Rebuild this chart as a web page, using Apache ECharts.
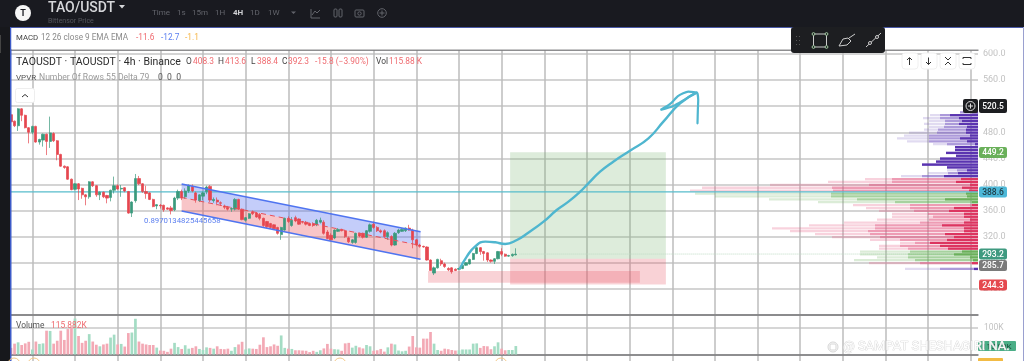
<!DOCTYPE html>
<html><head><meta charset="utf-8">
<style>html,body{margin:0;padding:0;background:#fff;overflow:hidden}#c{width:1024px;height:361px}</style>
<script src="https://cdn.jsdelivr.net/npm/echarts@6/dist/echarts.min.js"></script>
</head><body><div id="c"></div>
<script>
// [open, close, low, high]
const candles = [
[507,496,492,512],[497,490,488,498],[490,516,482,517],[516,506,497,517],[506,487,486,507],[487,480,463,488],[480,489,477,490],[489,465,464,490],[465,469,461,470],[468,477,458,478],
[477,466,445,478],[466,479,456,504],[478,467,465,480],[467,446,437,468],[446,428,427,447],[428,426,424,429],[427,408,407,428],[408,392,391,409],[392.5,401,391,402],[401,393,376,402],
[394,384,378,395],[384,381,368,385],[381,404,378,405],[404,398,396,405],[398,384,381,399],[384,388,376,389],[388,381,379,389],[383,379,371,384],[380,391,374,392],[391,398,386,412],
[398,393,392,400],[393,394,381,399],[395,390,388,396],[389,356,355,390],[356,373,350,374],[375,409,372,416],[409,401,399,413],[401,389,387,402],[389,386,378,398],[387,377,376,388],
[377,366,365,378],[367,369,362,370],[368,367,363,370],[368,361,358,369],[364,362,361,365],[364,360,354,367],[361,379,359,381],[379,389,376,392],[389,379,376,392],[381,390,378,394],
[390,398,387,400],[397,390,388,400],[387,376,372,389],[375,384,373,385],[382,387,376,389],[389,396,385,398],[397,376,373,399],[375,377,372,380],[376,373,368,380],[372,371,367,374],
[367,365,362,369],[365,362,360,367],[362,363,358,365],[362,377,360,379],[377,362,361,378],[362,346,345,363],[345,349,343,350],[348,355,347,356],[358,355,353,360],[356,350,349,357],
[354,348,345,356],[348,337,335,349],[343,335,333,344],[340,334,332,341],[338,332,330,339],[334,325,323,335],[323,334,315,335],[330,348,329,349],[348,343,341,351],[337,345,335,350],
[349,344,342,352],[347,339,338,348],[343,342,340,344],[342,339,337,344],[340,337,336,341],[340,337,335,342],[338,345,336,347],[342,345,340,349],[342,325,323,345],[327,317,316,330],
[322,315,313,325],[318,330,316,331],[328,331,327,333],[331,329,328,332],[329,320,318,330],[318,312,310,320],[311,315,309,316],[311,325,309,326],[325,321,319,326],[325,319,317,326],
[319,329,318,330],[328,338,326,340],[339,334,332,343],[334,329,327,336],[329,327,325,331],[329,320,318,331],[320,326,315,328],[320,307,305,322],[307,325,306,327],[326,330,324,332],
[328,331,327,333],[329,333,327,334],[333,330,329,338],[330,315,302,332],[315,307,305,316],[307,305,303,309],[305,304,303,306],[304,284,283,305],[284,268,268,285],[264,272,261,274],
[272,285,271,286],[283,278,275,286],[278,274,272,280],[271,269,267,273],[272,266,263,273],[270,268,267,271],[270,271,269,272],[271,276,270,277],[276,280,275,281],[278,285,277,286],
[285,294,284,295],[294,303,293,304],[303,297,292,304],[297,294,283,298],[295,284,281,296],[284,282,280,285],[282,286,278,287],[286,297,285,298],[297,293,290,302],[293,290,289,294],
[290,291,289,292],[290.7,292.8,289,294],[292,293.2,291,302]];
// volume in thousands
const volumes = [25,41,46,36,42,48,19,49,40,42,90,89,41,52,90,55,96,102,136,70,44,52,77,49,37,31,38,41,64,75,38,40,30,81,83,135,49,41,38,36,36,26,15,14,10,22,44,28,21,35,22,25,31,21,17,27,25,22,31,21,20,22,14,28,38,48,19,23,22,21,37,65,28,31,38,33,72,25,22,21,16,16,15,14,9,14,10,16,23,40,22,20,19,14,42,44,26,33,27,23,36,31,14,16,21,11,27,41,38,15,12,14,30,70,27,26,60,60,85,41,17,14,22,20,17,15,16,19,19,19,41,42,25,32,31,20,31,46,22,16,17,17,32];
const categories = candles.map((_, i) => String(i)).concat(Array.from({length: 273 - candles.length}, (_, i) => String(candles.length + i)));

// VPVR rows (price level, total, middle layer, dark layer, colour group)
const vpPrice = [510.6,506.2,501.7,497.3,492.8,488.4,483.9,479.5,475,470.6,466.1,461.7,457.2,452.8,448.3,443.9,439.4,435,430.5,426.1,421.6,417.2,412.7,408.3,403.8,399.4,394.9,390.5,386,381.6,377.1,372.7,368.2,363.8,359.3,354.9,350.4,346,341.5,337.1,332.6,328.2,323.7,319.3,314.8,310.4,305.9,301.5,297,292.6,288.1,283.7,279.2,274.8,270.3];
const vpTotal = [18,48,55,49,54,49,54,69,74,81,71,45,23,23,32,22,38,42,56,31,31,50,77,113,150,208,276,288,283,263,209,160,125,112,99,86,86,101,134,169,206,188,163,146,108,78,99,99,118,118,101,124,109,0,73];
const vpMid = [18,38,38,33,33,34,40,41,49,49,49,31,23,23,32,22,38,42,56,31,21,30,56,86,86,109,146,145,147,147,121,83,68,68,64,50,45,49,58,103,103,110,108,98,78,63,78,70,68,70,70,63,58,0,38];
const vpDark = [6,28,19,16,19,11,12,12,8,18,11,3,23,23,32,22,38,42,56,31,11,20,34,17,22,8,16,9,12,11,33,6,6,24,29,14,14,8,14,36,14,14,33,24,31,48,38,30,16,24,8,5,6,0,4];
const vpGroup = ['p','p','p','p','p','p','p','p','p','p','p','p','p','p','p','p','p','p','p','p','p','p','p','r','r','r','r','r','g','g','g','g','r','r','r','r','r','r','r','r','r','r','r','r','r','r','r','r','g','g','g','g','r','r','p'];

// Drawn overlays on bar-index / price coordinates
const positionBoxes = [[140.4,184.2,449.3,286,'g'],[140.4,184.2,286,246.5,'r'],[117.3,176.9,267,249,'r']];
const channelTop = [[48,400.7],[115.2,327.5]];
const channelMid = [[48,380],[115.2,306.3]];
const channelBottom = [[48,359.3],[115.2,285.2]];
const lastLevel = 388.6, stopDotted = 293.2;
const sketchCurve = [[126.3,271.3],[128.2,289.2],[130.5,304.6],[133.4,312.2],[136.2,311.2],[139,308.6],[142.3,314.8],[145.5,326],[149.8,342.9],[153.5,360.8],[156.8,373.6],[160.1,388.9],[162.4,401.7],[165.7,419.6],[169.4,434.9],[174.1,451.8],[179.3,470.7],[183.5,496.3],[188.2,524.4],[192.9,540.8]];
const sketchHead = [[192.9,540.8],[190.5,542.3],[187.7,535.7],[185.4,523.4],[182.7,514.2],[186.3,520.3],[189.6,530.5],[192.9,540.8],[193.3,529.5],[193.2,514.2],[193.1,493.7]];

const RED='#e5464f', GREEN='#3a9a7c';
const FONT='Roboto, "Noto Sans", sans-serif';
const vpColors = {
  p:['rgba(120,90,190,.22)','rgba(120,90,195,.5)','#5a34b0'],
  r:['rgba(230,90,130,.27)','rgba(225,80,125,.42)','#dc3560'],
  g:['rgba(110,180,95,.25)','rgba(105,180,90,.45)','#6bb05b']
};
const boxColors = {g:'rgba(120,180,110,.25)', r:'rgba(232,90,105,.27)'};

function T(x,y,text,size,fill,extra){
  return {type:'text',silent:true,z:60,x,y,style:Object.assign({text,fontSize:size,fill,fontFamily:FONT,verticalAlign:'middle',align:'left'},extra||{})};
}
function R(x,y,w,h,fill,r,extra){
  return {type:'rect',silent:true,z:49,shape:{x,y,width:w,height:h,r:r||0},style:Object.assign({fill},extra||{})};
}
function PL(points,stroke,w){
  return {type:'polyline',silent:true,z:51,shape:{points},style:{fill:'none',stroke,lineWidth:w||1}};
}
function C(cx,cy,r,stroke,fill,w){
  return {type:'circle',silent:true,z:51,shape:{cx,cy,r},style:{fill:fill||'none',stroke:stroke||'none',lineWidth:w||1}};
}
function badge(y,h,label,fill,textColor){
  return [R(979,y,28,h,fill,2),T(993,y+h/2+.5,label,8.5,textColor||'#fff',{align:'center',fontWeight:500})];
}

const dim='#62646b';
const graphics = [
  R(0,0,1024,27,'#191a20'),
  R(0,27,10,334,'#17181c'),
  R(10,27,1.5,334,'#3d5bc7'),
  R(11,27,1013,1,'#4a5aa8'),
  R(1023,27,1,334,'#9aa0cf'),
  R(0,35,1,18,'#444'),
  C(23,13,8,null,'#f6f6f6'),
  T(23,13.5,'T',9,'#191a20',{align:'center',fontWeight:700}),
  T(48,8,'TAO/USDT',14,'#d6d7da',{fontWeight:500}),
  {type:'polygon',silent:true,z:51,shape:{points:[[119,5],[125,5],[122,8.5]]},style:{fill:'#d6d7da'}},
  T(48,21,'Bittensor Price',7,'#54565c'),
  T(152,13,'Time',8,dim),T(177,13,'1s',8,dim),T(192,13,'15m',8,dim),T(215,13,'1H',8,dim),
  T(233,13,'4H',8,'#cfd0d3',{fontWeight:700}),T(250,13,'1D',8,dim),T(268,13,'1W',8,dim),
  {type:'polygon',silent:true,z:51,shape:{points:[[291,11.5],[296,11.5],[293.5,14]]},style:{fill:dim}},
  PL([[311,9],[311,18],[320,18]],dim),PL([[312,15],[315,11],[317,13],[320,10]],dim),
  R(334,9,3,8,'none',1,{stroke:dim}),R(339,9,3,8,'none',1,{stroke:dim}),
  R(355,10,9,7,'none',1,{stroke:dim}),C(359.5,13.5,1.7,dim),
  C(382,13,4.3,dim),PL([[379.5,13],[384.5,13]],dim),PL([[382,10.5],[382,15.5]],dim),

  R(11.5,28,1011.5,21.5,'#ffffff'),
  T(16,38,'MACD',7.8,'#444'),T(41,38,'12 26 close 9 EMA EMA',8.2,'#8a8a8a'),
  T(136,38,'-11.6',8.3,'#ef6b70'),T(161,38,'-12.7',8.3,'#5b7ff0'),T(185,38,'-1.1',8.3,'#f5b547'),

  T(16,62,'TAOUSDT · TAOUSDT · 4h · Binance',10.5,'#2c2c2c'),
  T(186,62,'O',8.4,'#444'),T(193,62,'408.3',8.4,'#ef6b70'),
  T(218,62,'H',8.4,'#444'),T(225,62,'413.6',8.4,'#ef6b70'),
  T(251,62,'L',8.4,'#444'),T(257,62,'388.4',8.4,'#ef6b70'),
  T(282,62,'C',8.4,'#444'),T(288,62,'392.3',8.4,'#ef6b70'),
  T(315,62,'-15.8 (−3.90%)',8.4,'#ef6b70'),
  T(376,62,'Vol',8.4,'#444'),T(389,62,'115.88 K',8.4,'#ef6b70'),
  T(16,78,'VPVR',8,'#555'),T(39,78,'Number Of Rows 55 Delta 79',8.6,'#9a9a9a'),T(158,78,'0  0  0',8.6,'#555'),
  R(15.5,88.5,19,14,'#fff',2,{stroke:'#eee'}),PL([[22,97],[25,94.5],[28,97]],'#333'),

  T(144,221,'0.8970134825445658',7.8,'#5b7ff0'),

  // drawing toolbar
  R(791,27,94,26,'#1d1e21',3),
  R(796,36,1,1,'#555'),R(799,36,1,1,'#555'),R(796,40,1,1,'#555'),R(799,40,1,1,'#555'),R(796,44,1,1,'#555'),R(799,44,1,1,'#555'),
  R(813.5,34,13,13,'none',0,{stroke:'#ccc'}),
  C(813.5,34,1.4,'#9fc79f','#1d1e21'),C(826.5,34,1.4,'#9fc79f','#1d1e21'),C(813.5,47,1.4,'#9fc79f','#1d1e21'),C(826.5,47,1.4,'#9fc79f','#1d1e21'),
  PL([[839,46],[843,39],[848,38],[851,41],[847,45],[839,46]],'#ccc'),PL([[849,38],[852,36],[855,34]],'#ccc'),
  PL([[866,47],[881,33]],'#ccc'),C(870,43,1.5,'#ccc','#1d1e21'),C(877,37,1.5,'#ccc','#1d1e21'),

  // pane buttons
  R(902,53,16,16,'#fff',3,{stroke:'#f0f0f0'}),R(921,53,16,16,'#fff',3,{stroke:'#f0f0f0'}),R(940,53,16,16,'#fff',3,{stroke:'#f0f0f0'}),R(959,53,16,16,'#fff',3,{stroke:'#f0f0f0'}),
  PL([[909.5,65],[909.5,58]],'#333'),PL([[907,60],[909.5,57.5],[912,60]],'#333'),
  PL([[928.5,57.5],[928.5,64.5]],'#333'),PL([[926,62],[928.5,64.5],[931,62]],'#333'),
  PL([[945,57],[948,60],[951,57]],'#333'),PL([[945,65],[948,62],[951,65]],'#333'),
  PL([[963,59],[963,57.5],[971,57.5],[971,59]],'#333'),PL([[963,63],[963,64.5],[971,64.5],[971,63]],'#333'),

  // price tags
  R(963,99,15,14,'#1d1e21',2),C(970.5,106,4.5,'#ddd'),PL([[968,106],[973,106]],'#ddd'),PL([[970.5,103.5],[970.5,108.5]],'#ddd'),
  ...badge(99,14,'520.5','#1d1e21'),
  ...badge(147,11,'449.2','#6ab05a'),
  ...badge(186.5,11,'388.6','#4db8d8','#1e3a44'),
  ...badge(248.5,11,'293.2','#3f9a80'),
  ...badge(260,11,'285.7','#7b7b7b'),
  ...badge(279.5,11,'244.3','#e5484e'),

  T(16,326,'Volume',8.4,'#555'),T(51,326,'115.882K',8.4,'#ef6b70'),
  R(978,341,38,10,'#4bae87',1),T(982,346.5,'115.88K',8,'#1e4a3b'),
  R(978,358,25,4,'#f2bb45',1),

  // earnings markers
  C(14,364,6,'#f3c98a'),C(34,364,6,'#f3c98a'),C(340,364,6,'#f3c98a'),C(501,364,6,'#f3c98a'),

  // watermark
  C(833,347,5,'#d5d5d5'),R(830,344,6,6,'none',1,{stroke:'#d5d5d5'}),
  T(843,347,'@ SAMPAT SHESHAGIRI NA.',13,'rgba(255,255,255,.92)',{stroke:'#cfcfcf',lineWidth:.7})
];

function rectsItem(params, api){
  const a = api.coord([api.value(0), api.value(2)]);
  const b = api.coord([api.value(1), api.value(3)]);
  return {type:'rect',shape:{x:a[0],y:a[1],width:b[0]-a[0],height:b[1]-a[1]},style:{fill:boxColors[positionBoxes[params.dataIndex][4]]}};
}
function band(p1,p2,fill){
  return {
    type:'custom',xAxisIndex:3,yAxisIndex:0,z:3,silent:true,data:[[0]],
    renderItem:function(params,api){
      const pts=[p1[0],p1[1],p2[1],p2[0]].map(p=>api.coord(p));
      return {type:'polygon',shape:{points:pts},style:{fill}};
    }
  };
}
function straight(data,color,width,type,z){
  return {type:'line',xAxisIndex:3,yAxisIndex:0,data,symbol:'none',silent:true,z:z||4,lineStyle:{color,width,type:type||'solid'},animation:false};
}

const splitV = {show:true,interval:(i)=>i>=6&&(i-6)%12===0,lineStyle:{color:'#bcbcbc',width:1.5}};
const darkLine = {show:true,onZero:false,lineStyle:{color:'#77777a',width:1.5}};
function catAxis(g){
  return {type:'category',gridIndex:g,data:categories,boundaryGap:false,position:'top',axisLine:darkLine,axisTick:{show:false},axisLabel:{show:false},splitLine:splitV};
}

const option = {
  animation:false,
  backgroundColor:'#ffffff',
  textStyle:{fontFamily:FONT},
  grid:[
    {left:11,width:967,top:50,height:264.8},
    {left:11,width:967,top:314.8,height:39.7},
    {left:11,width:967,top:354.5,height:7}
  ],
  xAxis:[
    catAxis(0),catAxis(1),catAxis(2),
    {type:'value',gridIndex:0,min:0,max:272,show:false},
    {type:'value',gridIndex:0,min:0,max:967,inverse:true,show:false}
  ],
  yAxis:[
    {type:'value',gridIndex:0,position:'right',min:200,max:606.2,interval:40,axisLine:{show:false},axisTick:{show:false},
     axisLabel:{showMaxLabel:false,showMinLabel:false,margin:5,fontSize:9,color:'#c2c2c2',fontFamily:FONT,formatter:v=>v.toFixed(1)},
     splitLine:{show:true,lineStyle:{color:'#c6c6c6',width:1.5}}},
    {type:'value',gridIndex:1,position:'right',min:0,max:150,interval:100,axisLine:{show:false},axisTick:{show:false},
     axisLabel:{margin:6,fontSize:8.5,color:'#c2c2c2',fontFamily:FONT,formatter:v=>v===100?'100K':''},
     splitLine:{show:true,lineStyle:{color:'#c9c9c9',width:1.5}}},
    {type:'value',gridIndex:2,position:'right',min:0,max:1,show:false}
  ],
  series:[
    {type:'custom',name:'position',xAxisIndex:3,yAxisIndex:0,z:2,silent:true,data:positionBoxes.map(b=>b.slice(0,4)),renderItem:rectsItem},
    straight([[0,lastLevel],[272,lastLevel]],'#57bccb',1.2,'solid',3),
    straight([[143,stopDotted],[272,stopDotted]],'#bcdcc4',1,'dotted',2),
    band(channelTop,channelMid,'rgba(70,100,240,.32)'),
    band(channelMid,channelBottom,'rgba(235,85,95,.34)'),
    straight(channelTop,'#4f74f0',1.6,'solid',5),
    straight(channelBottom,'#4f74f0',1.6,'solid',5),
    straight(channelMid,'#e8505a',1,[5,4],5),
    {type:'candlestick',name:'TAOUSDT',xAxisIndex:0,yAxisIndex:0,z:4,data:candles,barWidth:2.7,silent:true,
     itemStyle:{color:GREEN,color0:RED,borderColor:GREEN,borderColor0:RED,borderWidth:.7}},
    {type:'custom',name:'VPVR',xAxisIndex:4,yAxisIndex:0,z:3,silent:true,
     data:vpPrice.map((p,i)=>[vpTotal[i],p,vpMid[i],vpDark[i]]),
     renderItem:function(params,api){
       const g=vpGroup[params.dataIndex], base=api.coord([0,api.value(1)]);
       const h=api.size([0,4.448])[1]*.78;
       const bar=(w,c)=>{const p=api.coord([w,api.value(1)]);return {type:'rect',shape:{x:p[0],y:base[1]-h/2,width:base[0]-p[0],height:h},style:{fill:c}};};
       return {type:'group',children:[bar(api.value(0),vpColors[g][0]),bar(api.value(2),vpColors[g][1]),bar(api.value(3),vpColors[g][2])]};
     }},
    {type:'line',xAxisIndex:3,yAxisIndex:0,data:sketchCurve,symbol:'none',smooth:.5,silent:true,z:6,lineStyle:{color:'#4fb6cf',width:2.4,cap:'round'}},
    {type:'line',xAxisIndex:3,yAxisIndex:0,data:sketchHead,symbol:'none',smooth:.2,silent:true,z:6,lineStyle:{color:'#4fb6cf',width:2.2,cap:'round'}},
    {type:'bar',name:'Volume',xAxisIndex:1,yAxisIndex:1,barWidth:2.7,silent:true,
     data:volumes.map((v,i)=>({value:v,itemStyle:{color:candles[i][1]>=candles[i][0]?'#a4dcc4':'#f3a9b5'}}))}
  ],
  graphic:{elements:graphics}
};
const chart = echarts.init(document.getElementById('c'),null,{renderer:'canvas',width:1024,height:361});
chart.setOption(option);
</script></body></html>
